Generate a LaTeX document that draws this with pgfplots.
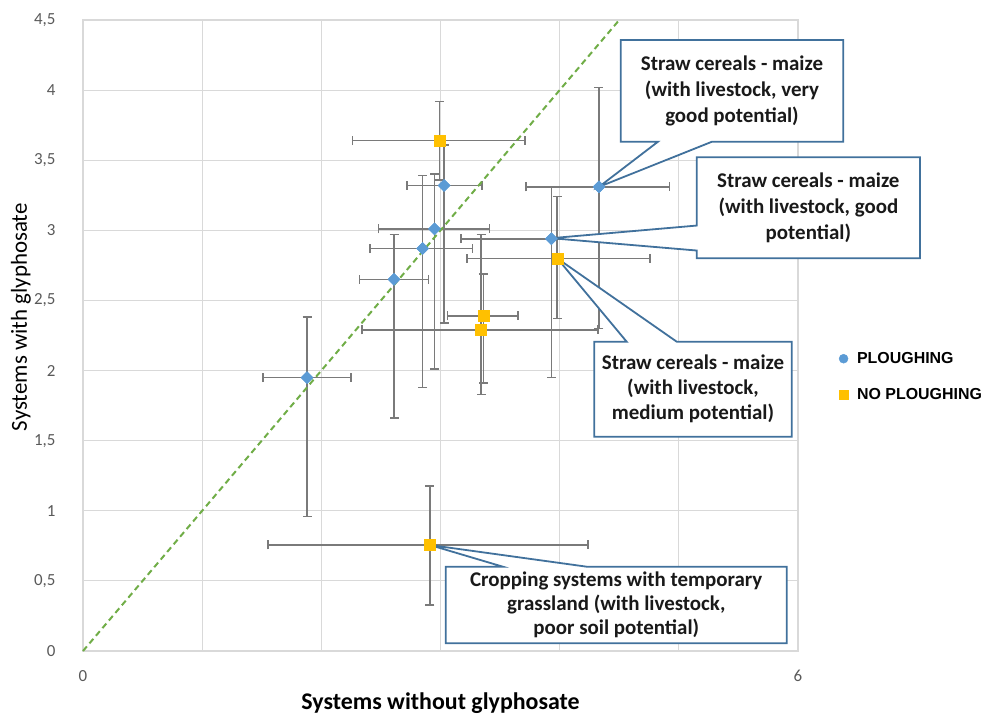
\documentclass[border=0pt]{standalone}
\usepackage{fontspec}
\setmainfont{Carlito}
\newfontfamily\legfont{Liberation Sans}
\usepackage{pgfplots}
\usepackage{pgfplotstable}
\pgfplotsset{compat=1.18}
\definecolor{ploublue}{HTML}{5B9BD5}
\definecolor{nogold}{HTML}{FFC000}
\definecolor{errgray}{HTML}{7A7A7A}
\definecolor{gridgray}{HTML}{D9D9D9}
\definecolor{calloutblue}{HTML}{41719C}
\definecolor{diaggreen}{HTML}{70AD47}
\definecolor{ticktext}{HTML}{595959}

\pgfplotstableread{
x    y     exm   exp   eym   eyp
1.88 1.95  0.37  0.37  0.99  0.43
2.61 2.65  0.29  0.29  0.99  0.32
2.85 2.87  0.44  0.42  0.99  0.52
2.95 3.01  0.47  0.46  1.00  0.39
3.03 3.32  0.31  0.32  0.98  0.29
3.93 2.94  0.76  0.75  0.99  0.37
4.33 3.31  0.61  0.59  1.01  0.71
}\plough

\pgfplotstableread{
x    y     exm   exp   eym   eyp
2.99 3.64  0.73  0.72  0.28  0.28
3.98 2.80  0.76  0.78  0.43  0.44
3.36 2.39  0.30  0.29  0.48  0.30
3.34 2.29  1.00  0.98  0.46  0.68
2.91 0.756 1.36  1.33  0.43  0.42
}\noplough

\begin{document}
\begin{tikzpicture}
\path[use as bounding box] (0,0) rectangle (989bp,718bp);
\begin{axis}[
  at={(83bp,67bp)}, anchor=south west,
  scale only axis, width=715bp, height=631bp,
  xmin=0, xmax=6, ymin=0, ymax=4.5,
  xtick={0,1,2,3,4,5,6}, xticklabels={0,,,,,,6},
  ytick={0,0.5,1,1.5,2,2.5,3,3.5,4,4.5},
  /pgf/number format/assume math mode=true,
  /pgf/number format/use comma,
  /pgf/number format/fixed,
  /pgf/number format/precision=1,
  tick label style={font=\fontsize{17}{17}\selectfont, text=ticktext},
  xticklabel style={yshift=-16bp},
  yticklabel style={xshift=-24bp},
  major tick length=0pt,
  grid=major, grid style={gridgray, line width=1.2bp},
  axis line style={gridgray, line width=1.2bp},
  clip=false,
  xlabel={\bfseries Systems without glyphosate},
  ylabel={Systems with glyphosate},
  xlabel style={at={(axis description cs:0.5,-0.083)}, anchor=center, font=\fontsize{24}{24}\selectfont},
  ylabel style={at={(axis description cs:-0.087,0.529)}, anchor=center, font=\fontsize{23}{23}\selectfont},
  legend style={at={(axis description cs:1.053,0.435)}, anchor=west, draw=none, fill=none,
    font=\legfont\bfseries\fontsize{16}{16}\selectfont, row sep=19bp, cells={anchor=west},
    /tikz/every odd column/.append style={column sep=7bp}},
]
% markers with error bars
\addplot[only marks, mark=square*, mark size=4.2bp, mark options={rotate=45}, color=ploublue, forget plot,
  error bars/.cd, x dir=both, x explicit, y dir=both, y explicit,
  error mark=-,
  error bar style={errgray, line width=1.6bp},
  error mark options={errgray, line width=1.6bp, mark size=4.5bp, rotate=90}]
  table[x=x, y=y, x error minus=exm, x error plus=exp, y error minus=eym, y error plus=eyp] {\plough};
\addplot[only marks, mark=square*, mark size=5.5bp, color=nogold, forget plot,
  error bars/.cd, x dir=both, x explicit, y dir=both, y explicit,
  error mark=-,
  error bar style={errgray, line width=1.6bp},
  error mark options={errgray, line width=1.6bp, mark size=4.5bp, rotate=90}]
  table[x=x, y=y, x error minus=exm, x error plus=exp, y error minus=eym, y error plus=eyp] {\noplough};
% diagonal
\addplot[diaggreen, line width=2bp, dash pattern=on 6bp off 4bp, forget plot] coordinates {(0,0) (4.5,4.5)};
% markers on top
\addplot[only marks, mark=square*, mark size=4.2bp, mark options={rotate=45}, color=ploublue, forget plot] table[x=x, y=y] {\plough};
\addplot[only marks, mark=square*, mark size=5.5bp, color=nogold, forget plot] table[x=x, y=y] {\noplough};
% legend
\addlegendimage{only marks, mark=*, mark size=4.5bp, color=ploublue}
\addlegendentry{PLOUGHING}
\addlegendimage{only marks, mark=square*, mark size=4.5bp, color=nogold}
\addlegendentry{NO PLOUGHING}
% callouts
\draw[calloutblue, line width=1.8bp, fill=white, line join=miter]
  (axis cs:4.512,4.357) -- (axis cs:6.380,4.357) -- (axis cs:6.380,3.632) -- (axis cs:5.278,3.632)
  -- (axis cs:4.33,3.31) -- (axis cs:4.825,3.632) -- (axis cs:4.512,3.632) -- cycle;
\draw[calloutblue, line width=1.8bp, fill=white, line join=miter]
  (axis cs:5.150,3.521) -- (axis cs:7.023,3.521) -- (axis cs:7.023,2.801) -- (axis cs:5.150,2.801)
  -- (axis cs:5.150,2.856) -- (axis cs:3.93,2.944) -- (axis cs:5.150,3.034) -- cycle;
\draw[calloutblue, line width=1.8bp, fill=white, line join=miter]
  (axis cs:4.291,2.206) -- (axis cs:4.562,2.206) -- (axis cs:3.98,2.80) -- (axis cs:4.982,2.206)
  -- (axis cs:5.947,2.206) -- (axis cs:5.947,1.528) -- (axis cs:4.291,1.528) -- cycle;
\draw[calloutblue, line width=1.8bp, fill=white, line join=miter]
  (axis cs:3.044,0.601) -- (axis cs:3.524,0.601) -- (axis cs:2.91,0.756) -- (axis cs:4.229,0.601)
  -- (axis cs:5.905,0.601) -- (axis cs:5.905,0.055) -- (axis cs:3.044,0.055) -- cycle;
\node[align=center, font=\bfseries\fontsize{21}{26}\selectfont, text=black!90] at (axis cs:5.446,3.995)
  {Straw cereals - maize\\(with livestock, very\\good potential)};
\node[align=center, font=\bfseries\fontsize{21}{26}\selectfont, text=black!90] at (axis cs:6.087,3.161)
  {Straw cereals - maize\\(with livestock, good\\potential)};
\node[align=center, font=\bfseries\fontsize{21}{25}\selectfont, text=black!90] at (axis cs:5.119,1.867)
  {Straw cereals - maize\\(with livestock,\\medium potential)};
\node[align=center, font=\bfseries\fontsize{21}{24}\selectfont, text=black!90] at (axis cs:4.475,0.328)
  {Cropping systems with temporary\\grassland (with livestock,\\poor soil potential)};
\end{axis}
\end{tikzpicture}
\end{document}
